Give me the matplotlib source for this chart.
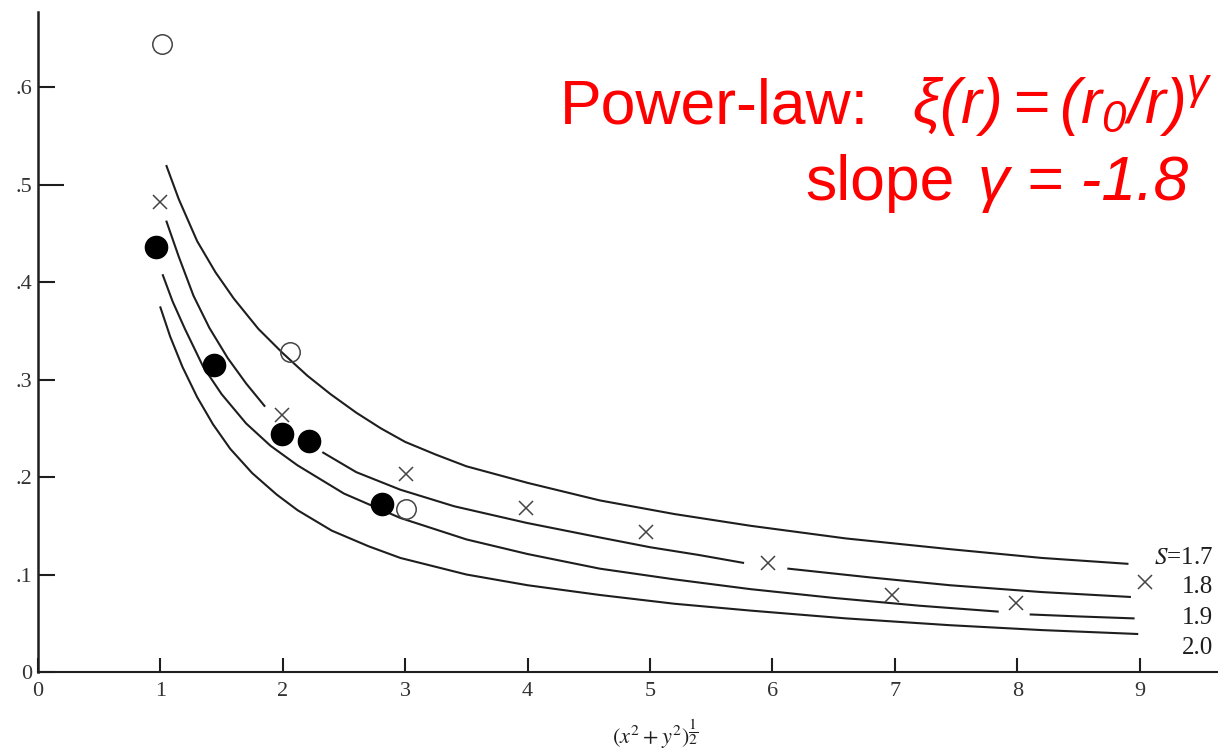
import numpy as np
import matplotlib
matplotlib.use('Agg')
import matplotlib.pyplot as plt

plt.rcParams['mathtext.fontset'] = 'custom'
plt.rcParams['mathtext.rm'] = 'Liberation Sans:italic'
plt.rcParams['mathtext.it'] = 'Liberation Sans:italic'

# curves, nan = gap in the drawn line
s17_x = [1.05, 1.15, 1.3, 1.45, 1.6, 1.8, 2.0, 2.2, 2.39, 2.6, 2.8, 3.0, 3.25, 3.5, 4.0, 4.59, 5.2, 5.82, 6.6, 7.45, 8.2, 8.9]
s17_y = [0.519, 0.485, 0.442, 0.410, 0.383, 0.352, 0.327, 0.304, 0.285, 0.266, 0.250, 0.236, 0.223, 0.211, 0.194, 0.176, 0.162, 0.150, 0.137, 0.126, 0.117, 0.111]

s18_x = [1.05, 1.15, 1.27, 1.4, 1.55, 1.7, 1.85, np.nan,
         2.33, 2.6, 2.96, 3.4, 3.99, 4.59, 5.0, 5.4, 5.76, np.nan,
         6.13, 6.8, 7.45, 8.2, 8.92]
s18_y = [0.462, 0.426, 0.386, 0.353, 0.322, 0.296, 0.273, np.nan,
         0.225, 0.205, 0.187, 0.170, 0.153, 0.138, 0.128, 0.120, 0.112, np.nan,
         0.106, 0.097, 0.089, 0.082, 0.077]

s19_x = [1.02, 1.1, 1.2, 1.35, 1.5, 1.7, 1.9, 2.12, 2.5, 2.96, 3.5, 4.0, 4.59, 5.2, 5.82, 6.5, 7.2, 7.84, np.nan,
         8.11, 8.5, 8.95]
s19_y = [0.407, 0.380, 0.352, 0.313, 0.285, 0.255, 0.232, 0.212, 0.183, 0.158, 0.136, 0.121, 0.106, 0.095, 0.085, 0.076, 0.068, 0.062, np.nan,
         0.059, 0.057, 0.055]

s20_x = [1.0, 1.08, 1.18, 1.3, 1.43, 1.57, 1.75, 1.95, 2.12, 2.4, 2.7, 2.96, 3.5, 4.0, 4.59, 5.2, 5.82, 6.6, 7.45, 8.2, 8.98]
s20_y = [0.374, 0.344, 0.313, 0.282, 0.254, 0.229, 0.204, 0.182, 0.166, 0.145, 0.129, 0.117, 0.100, 0.089, 0.079, 0.070, 0.063, 0.055, 0.048, 0.043, 0.039]

open_x = [1.01, 2.06, 3.01]
open_y = [0.644, 0.328, 0.167]
cross_x = [1.0, 1.99, 3.01, 3.99, 4.97, 5.96, 6.98, 7.99, 9.04]
cross_y = [0.482, 0.264, 0.203, 0.168, 0.144, 0.112, 0.079, 0.071, 0.092]
filled_x = [0.96, 1.44, 1.99, 2.21, 2.81]
filled_y = [0.436, 0.315, 0.244, 0.237, 0.172]

curve_labels = [r'$S$=1.7', '1.8', '1.9', '2.0']
curve_label_y = [0.117, 0.087, 0.055, 0.025]

yticks = [0, 0.1, 0.2, 0.3, 0.4, 0.5, 0.6]
ytick_labels = ['0', '.1', '.2', '.3', '.4', '.5', '.6']
xticks = [0, 1, 2, 3, 4, 5, 6, 7, 8, 9]

ink = '#1e1e1e'
serif = 'Liberation Serif'

fig = plt.figure(figsize=(12.18, 7.53), dpi=100)
ax = fig.add_axes([38/1218, 81/753, 1180/1218, 660/753])

for cx, cy in [(s17_x, s17_y), (s18_x, s18_y), (s19_x, s19_y), (s20_x, s20_y)]:
    ax.plot(cx, cy, color=ink, lw=1.5)

ax.plot(open_x, open_y, 'o', ms=14, mfc='none', mec='#444444', mew=1.1)
ax.plot(cross_x, cross_y, 'x', ms=10, color='#444444', mew=1.1)
ax.plot(filled_x, filled_y, 'o', ms=16, color='black')

for lab, ly in zip(curve_labels, curve_label_y):
    ax.text(9.6, ly, lab, ha='right', va='center', fontsize=18, family=serif,
            color=ink, math_fontfamily='stix')

ax.set_xlim(0, 9.64)
ax.set_ylim(0, 0.677)
ax.set_xticks(xticks)
ax.set_xticklabels([str(t) for t in xticks], family=serif, fontsize=16, color='#333333')
ax.set_yticks(yticks)
ax.set_yticklabels(ytick_labels, family=serif, fontsize=16, color='#333333')
ax.tick_params(axis='x', direction='in', length=10, width=1.5, pad=7, color=ink)
ax.tick_params(axis='y', direction='in', length=12, width=1.5, pad=4, color=ink)
ax.yaxis.get_major_ticks()[5].tick1line.set_markersize(19)

ax.spines['top'].set_visible(False)
ax.spines['right'].set_visible(False)
ax.spines['left'].set_linewidth(1.8)
ax.spines['bottom'].set_linewidth(1.5)
ax.spines['left'].set_color(ink)
ax.spines['bottom'].set_color(ink)

ax.text(0.523, -0.095, r'$(x^2+y^2)^{\dfrac{1}{2}}$', transform=ax.transAxes,
        ha='center', va='center', fontsize=16, math_fontfamily='stix', color=ink)

fig.text(560/1218, 1 - 123/753, 'Power-law:', fontsize=45, color='red',
         family='Liberation Sans', va='baseline')
fig.text(912/1218, 1 - 123/753, r'$\xi(r) = (r_0/r)^{\gamma}$', fontsize=45, color='red',
         family='Liberation Sans', va='baseline')
fig.text(805/1218, 1 - 200/753, 'slope', fontsize=45, color='red',
         family='Liberation Sans', va='baseline')
fig.text(978/1218, 1 - 200/753, 'γ = -1.8', fontsize=45, color='red',
         family='Liberation Sans', style='italic', va='baseline')

plt.savefig('out.png', dpi=100)
